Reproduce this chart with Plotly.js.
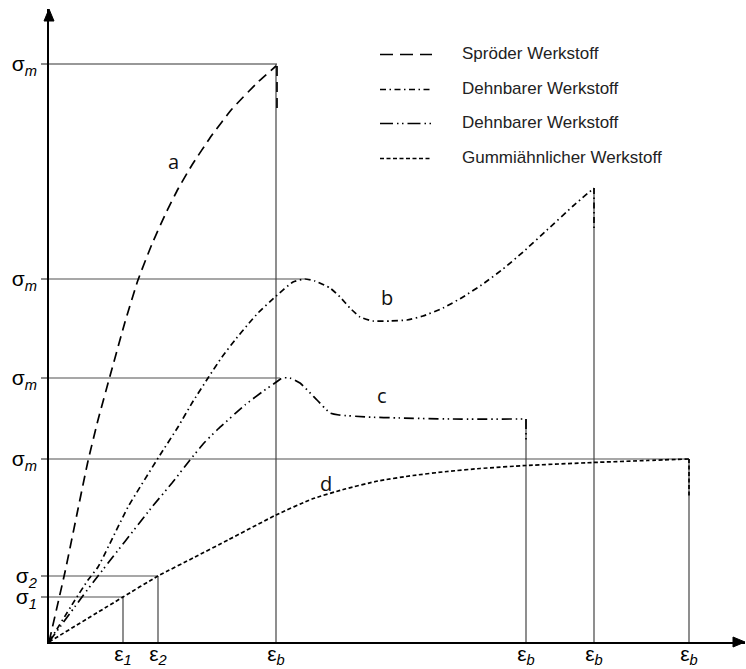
<!DOCTYPE html>
<html>
<head>
<meta charset="utf-8">
<script src="https://cdn.plot.ly/plotly-3.0.1.min.js"></script>
<style>html,body{margin:0;padding:0;background:#fff;}#chart{width:746px;height:669px;}</style>
</head>
<body>
<div id="chart"></div>
<script>
// Curve a: brittle material (Spröder Werkstoff)
const strainA = [0, 16, 29, 39, 49, 61, 76, 89, 103, 116, 129, 143, 163, 183, 209, 227];
const stressA = [0, 70, 133, 181, 222, 266, 320, 362, 398, 427, 453, 477, 507, 533, 560, 576];
// Curve b: ductile material with yield point
const strainB = [0, 26, 39, 49, 79, 111, 129, 143, 159, 173, 186, 201, 209, 226, 244, 256, 266, 281, 291, 301, 311, 324, 341, 358, 374, 394, 414, 434, 454, 474, 498, 524, 545];
const stressB = [0, 42, 62, 75, 135, 187, 215, 239, 264, 285, 302, 320, 329, 345, 360, 363, 361, 354, 345, 334, 325, 321, 321, 322, 326, 334, 345, 358, 373, 390, 412, 436, 454];
// Curve c: ductile material
const strainC = [0, 33, 49, 103, 123, 141, 155, 169, 196, 213, 226, 233, 241, 251, 268, 281, 290, 318, 351, 401, 477];
const stressC = [0, 45, 66, 135, 159, 182, 199, 213, 237, 250, 259, 264, 264, 259, 242, 229, 227, 225, 224, 223, 223];
// Curve d: rubber-like material
const strainD = [0, 74, 109, 146, 179, 227, 263, 296, 329, 364, 398, 431, 477, 544, 598, 640];
const stressD = [0, 45, 66, 85, 102, 127, 143, 153, 161, 166.5, 170.5, 173.5, 176.5, 179.5, 181.5, 183];

// Fracture drops (strain at break, stress before, stress after)
const dropStrain = [228, 545, 477, 640];
const dropFrom   = [576, 454, 223, 183];
const dropTo     = [534, 412, 200, 145];

// Axis tick values and labels
const yTickVals = [578, 363, 264, 183, 66, 45];
const yTickText = ['σ<sub><i>m</i></sub>', 'σ<sub><i>m</i></sub>', 'σ<sub><i>m</i></sub>', 'σ<sub><i>m</i></sub>', 'σ<sub><i>2</i></sub>', 'σ<sub><i>1</i></sub>'];
const hLineEnd  = [228, 256, 231, 640, 109, 74];
const xTickVals = [74, 109, 227, 477, 545, 640];
const xTickText = ['ε<sub><i>1</i></sub>', 'ε<sub><i>2</i></sub>', 'ε<sub><i>b</i></sub>', 'ε<sub><i>b</i></sub>', 'ε<sub><i>b</i></sub>', 'ε<sub><i>b</i></sub>'];
const vLineTop  = [45, 66, 578, 223, 454, 183];

const seriesNames = ['Spröder Werkstoff', 'Dehnbarer Werkstoff', 'Dehnbarer Werkstoff', 'Gummiähnlicher Werkstoff'];
const curveLabels = ['a', 'b', 'c', 'd'];
const labelX = [124, 338, 333, 277];
const labelY = [481, 345, 247, 159];

const dashes = ['10px,6px', '6px,3.5px,1.5px,3.5px', '10px,4px,1.5px,3.5px,1.5px,4px', '4px,2.5px'];
const legendDashes = ['13px,7px', '6px,3.5px,1.5px,3.5px', '13px,4px,1.5px,3.5px,1.5px,4px', '4px,2.5px'];

const traces = [];
yTickVals.forEach((v, i) => {
  traces.push({x: [0, hLineEnd[i]], y: [v, v], mode: 'lines', hoverinfo: 'skip', showlegend: false,
    line: {color: i === 0 ? '#333' : '#8a8a8a', width: i === 0 ? 1.2 : 1.6}});
});
xTickVals.forEach((v, i) => {
  traces.push({x: [v, v], y: [0, vLineTop[i]], mode: 'lines', hoverinfo: 'skip', showlegend: false,
    line: {color: '#444', width: 1.2}});
});
const curves = [[strainA, stressA], [strainB, stressB], [strainC, stressC], [strainD, stressD]];
curves.forEach((c, i) => {
  traces.push({x: c[0], y: c[1], mode: 'lines', name: seriesNames[i], showlegend: false,
    line: {color: '#000', width: 1.7, dash: dashes[i], shape: 'spline', smoothing: 0.45}});
  traces.push({x: [dropStrain[i], dropStrain[i]], y: [dropFrom[i], dropTo[i]], mode: 'lines', showlegend: false, hoverinfo: 'skip',
    line: {color: '#000', width: 1.7, dash: dashes[i]}});
});

const W = 696, H = 633;
const shapes = [
  {type: 'path', xref: 'paper', yref: 'paper', path: `M -${5/W} ${1-12/H} L 0 1 L ${5/W} ${1-12/H} Z`, fillcolor: '#000', line: {color: '#000', width: 1}},
  {type: 'path', xref: 'paper', yref: 'paper', path: `M ${1-12/W} ${5/H} L 1 0 L ${1-12/W} -${5/H} Z`, fillcolor: '#000', line: {color: '#000', width: 1}}
];
const annotations = [];
curveLabels.forEach((t, i) => {
  annotations.push({x: labelX[i], y: labelY[i], xref: 'x', yref: 'y', text: t, showarrow: false,
    font: {family: 'Open Sans, sans-serif', size: 20, color: '#111'}});
});
const legRowsPx = [53, 88, 122, 157];
seriesNames.forEach((n, i) => {
  const yp = 1 - (legRowsPx[i] + 1.5 - 9) / H;
  shapes.push({type: 'line', xref: 'paper', yref: 'paper', x0: (380 - 49) / W, x1: (432 - 49) / W, y0: yp, y1: yp,
    line: {color: '#000', width: 1.7, dash: legendDashes[i]}});
  annotations.push({xref: 'paper', yref: 'paper', x: (460 - 49) / W, y: 1 - (legRowsPx[i] - 9) / H, xanchor: 'left', yanchor: 'middle',
    text: n, showarrow: false, font: {family: 'Liberation Sans, Arial, sans-serif', size: 17, color: '#222'}});
});

const layout = {
  width: 746, height: 669,
  margin: {l: 49, r: 1, t: 9, b: 27, pad: 0},
  paper_bgcolor: '#fff', plot_bgcolor: '#fff',
  showlegend: false,
  xaxis: {range: [0, W], showgrid: false, zeroline: false, showline: true, linecolor: '#000', linewidth: 1.8,
    tickvals: xTickVals, ticktext: xTickText, ticks: '', automargin: false, ticklabelstandoff: -8,
    tickfont: {family: 'Liberation Sans, Arial, sans-serif', size: 21, color: '#000'}},
  yaxis: {range: [0, H], showgrid: false, zeroline: false, showline: true, linecolor: '#000', linewidth: 1.8,
    tickvals: yTickVals, ticktext: yTickText, ticks: 'outside', ticklen: 6, tickcolor: '#8a8a8a', tickwidth: 1.5, automargin: false,
    tickfont: {family: 'Liberation Sans, Arial, sans-serif', size: 21, color: '#000'}},
  shapes: shapes,
  annotations: annotations
};
Plotly.newPlot('chart', traces, layout, {displayModeBar: false, staticPlot: true});
</script>
</body>
</html>
